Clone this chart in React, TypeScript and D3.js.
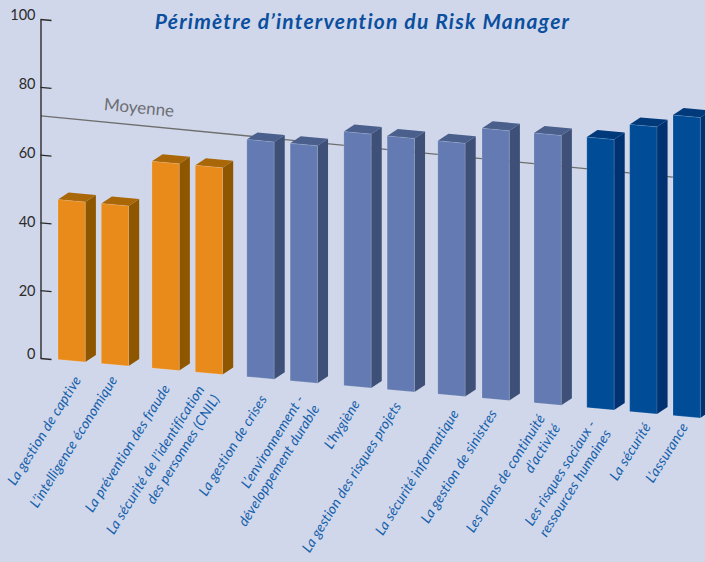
import { useEffect, useRef } from 'react'
import { axisLeft, line, scaleLinear, select } from 'd3'

// labels, split where the reference breaks the line
const categories = [
  ['La gestion de captive'],
  ['L’intelligence économique'],
  ['La prévention des fraude'],
  ['La sécurité de l’identification', 'des personnes (CNIL)'],
  ['La gestion de crises'],
  ['L’environnement -', 'développement durable'],
  ['L’hygiène'],
  ['La gestion des risques projets'],
  ['La sécurité informatique'],
  ['La gestion de sinistres'],
  ['Les plans de continuité', 'd’activité'],
  ['Les risques sociaux -', 'ressources humaines'],
  ['La sécurité'],
  ['L’assurance'],
]
const values = [47.2, 47.2, 61, 61, 70, 70, 74.9, 74.8, 74.7, 79.6, 79.6, 79.8, 84.7, 88.6]
const colorGroups = [0, 0, 0, 0, 1, 1, 1, 1, 1, 1, 1, 2, 2, 2]
const averageEnds = [71.4, 70.3]
const yTicks = [0, 20, 40, 60, 80, 100]

// [front, side, top]
const palette = [
  ['#e98b1b', '#8f5600', '#a96707'],
  ['#637bb2', '#3e5078', '#4a5f8c'],
  ['#004c97', '#003170', '#003a7b'],
]
// extra space before each bar, in bar slots
const slotGaps = [0, 0, 0.17, 0.17, 0.36, 0.36, 0.6, 0.6, 0.77, 0.79, 0.99, 1.21, 1.2, 1.2]
const labelNudge = [
  [10, 19], [3, 15], [5, 19], [-4, 16], [7, 21], [1, 17], [3, 17],
  [1, 15], [8, 18], [2, 14], [-2, 14], [-4, 15], [8, 14], [2, 10],
]
// tick labels do not sit evenly against their ticks in the reference
const tickLabelNudge = [0, 4.7, 3.7, 2, 1, -0.7]

const width = 705
const height = 562
const axisX = 41
const slant = 0.0909
const barWidth = 27.3
const depthX = 10.6
const depthY = -7

const App = () => {
  const svgRef = useRef<SVGSVGElement>(null)

  useEffect(() => {
    const svg = select(svgRef.current)
    svg.selectAll('*').remove()

    const xScale = scaleLinear().domain([0, 14.2]).range([58, 673])
    const yScale = scaleLinear().domain([0, 100]).range([358, 19])
    // the whole chart is drawn leaning down to the right
    const yAt = (x: number, v: number) => yScale(v) + slant * (x - axisX)
    const slot = (i: number) => i + slotGaps[i]
    const pathOf = line()

    svg
      .append('text')
      .text('Périmètre d’intervention du Risk Manager')
      .attr('x', 362.5)
      .attr('y', 29)
      .attr('text-anchor', 'middle')
      .attr('font-family', 'Lato')
      .attr('font-size', 21)
      .attr('font-weight', 700)
      .attr('font-style', 'italic')
      .attr('letter-spacing', 1.2)
      .attr('fill', '#0b4f9e')

    // average line sits behind the bars
    svg
      .append('path')
      .attr(
        'd',
        pathOf([
          [axisX, yAt(axisX, averageEnds[0])],
          [xScale(14.2), yAt(xScale(14.2), averageEnds[1])],
        ])
      )
      .attr('fill', 'none')
      .attr('stroke', '#6e6e6e')
      .attr('stroke-width', 1.3)

    svg
      .append('text')
      .text('Moyenne')
      .attr('transform', 'translate(103.5 110) rotate(5.5)')
      .attr('font-family', 'Lato')
      .attr('font-size', 17)
      .attr('fill', '#6c6d72')

    const yAxis = axisLeft(yScale).tickValues(yTicks).tickSize(0).tickSizeOuter(0)
    const yAxisGroup = svg.append('g').attr('transform', `translate(${axisX - 0.5} 0)`).call(yAxis)
    yAxisGroup.select('.domain').attr('stroke', '#2b2b2b').attr('stroke-width', 1.4)
    yAxisGroup
      .selectAll('.tick line')
      .attr('x2', 11)
      .attr('y2', 1)
      .attr('stroke', '#2b2b2b')
      .attr('stroke-width', 1.3)
    yAxisGroup
      .selectAll('.tick text')
      .attr('x', -5)
      .attr('y', (_d, i) => tickLabelNudge[i])
      .attr('dy', '0.05em')
      .attr('font-family', 'Lato')
      .attr('font-size', 14.5)
      .attr('fill', '#2b2b2b')

    values.forEach((v, i) => {
      const x0 = xScale(slot(i))
      const x1 = x0 + barWidth
      const [front, side, top] = palette[colorGroups[i]]
      const bar = svg.append('g')

      bar
        .append('path')
        .attr(
          'd',
          pathOf([
            [x1, yAt(x1, v)],
            [x1 + depthX, yAt(x1, v) + depthY],
            [x1 + depthX, yAt(x1, 0) + depthY],
            [x1, yAt(x1, 0)],
          ]) + 'Z'
        )
        .attr('fill', side)

      bar
        .append('path')
        .attr(
          'd',
          pathOf([
            [x0, yAt(x0, v)],
            [x0 + depthX, yAt(x0, v) + depthY],
            [x1 + depthX, yAt(x1, v) + depthY],
            [x1, yAt(x1, v)],
          ]) + 'Z'
        )
        .attr('fill', top)

      bar
        .append('path')
        .attr(
          'd',
          pathOf([
            [x0, yAt(x0, v)],
            [x1, yAt(x1, v)],
            [x1, yAt(x1, 0)],
            [x0, yAt(x0, 0)],
          ]) + 'Z'
        )
        .attr('fill', front)
        .attr('stroke', '#ffffff')
        .attr('stroke-opacity', 0.2)
        .attr('stroke-width', 0.8)
    })

    categories.forEach((lines, i) => {
      const center = xScale(slot(i)) + barWidth / 2
      const [dx, dy] = labelNudge[i]
      const label = svg
        .append('text')
        .attr('transform', `translate(${center + dx} ${yAt(center, 0) + dy}) rotate(-58)`)
        .attr('text-anchor', 'end')
        .attr('font-family', 'Lato')
        .attr('font-size', 14)
        .attr('font-style', 'italic')
        .attr('letter-spacing', 0.2)
        .attr('fill', '#1560ab')
      lines.forEach((t, j) => {
        label
          .append('tspan')
          .text(t)
          .attr('x', 0)
          .attr('dy', j === 0 ? 0 : 18)
      })
    })
  }, [])

  return (
    <svg
      ref={svgRef}
      width={width}
      height={height}
      style={{ position: 'fixed', left: 0, top: 0, background: '#d0d7ea', display: 'block' }}
    />
  )
}

export default App
